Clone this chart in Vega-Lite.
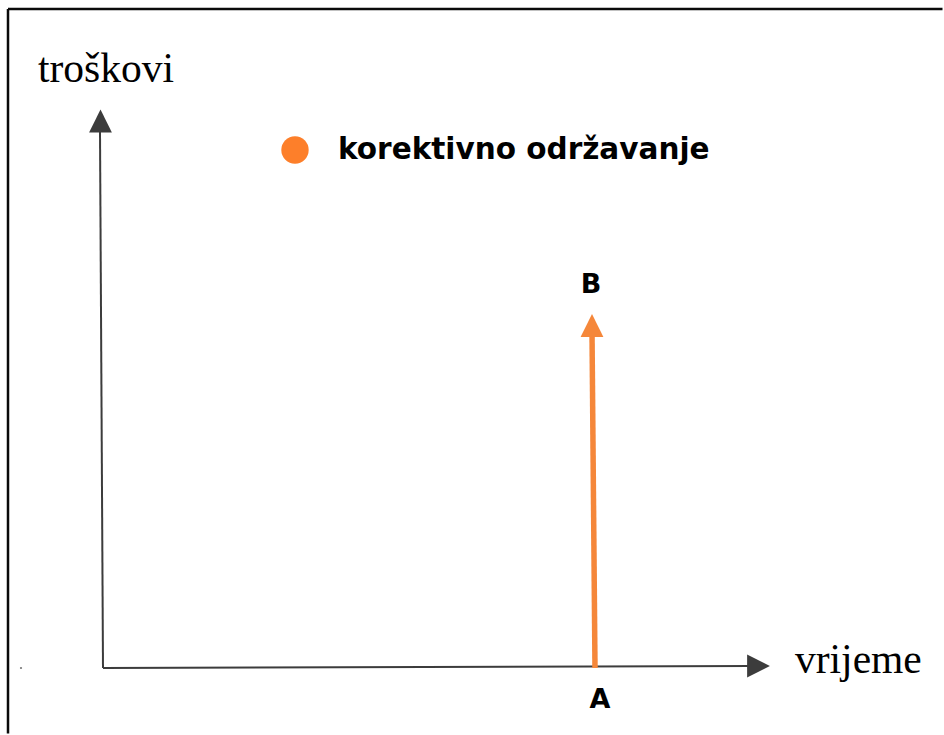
{
  "$schema": "https://vega.github.io/schema/vega-lite/v6.json",
  "width": 944,
  "height": 735,
  "autosize": {"type": "fit", "contains": "padding"},
  "padding": 0,
  "background": "white",
  "config": {"view": {"stroke": null}},
  "datasets": {
    "lines": [
      {"series": "frame", "x": -0.94, "y": -0.655, "x2": -0.94, "y2": 6.59},
      {"series": "frame", "x": -0.94, "y": 6.59, "x2": 8.405, "y2": 6.59},
      {"series": "axis", "x": 0.01, "y": 0, "x2": -0.02, "y2": 5.36},
      {"series": "axis", "x": 0.01, "y": 0, "x2": 6.5, "y2": 0.02},
      {"series": "korektivno održavanje", "x": 4.93, "y": 0, "x2": 4.9, "y2": 3.36}
    ],
    "upHeads": [
      {"series": "axis", "x": -0.015, "y": 5.47},
      {"series": "korektivno održavanje", "x": 4.9, "y": 3.425}
    ],
    "rightHeads": [
      {"series": "axis", "x": 6.565, "y": 0.02}
    ],
    "legend": [
      {"series": "korektivno održavanje", "x": 1.93, "y": 5.18, "label": "korektivno održavanje", "lx": 2.36, "ly": 5.09}
    ],
    "axisTitles": [
      {"label": "troškovi", "x": -0.64, "y": 5.86},
      {"label": "vrijeme", "x": 6.93, "y": -0.05}
    ],
    "points": [
      {"label": "B", "x": 4.89, "y": 3.75},
      {"label": "A", "x": 4.98, "y": -0.4}
    ],
    "speck": [
      {"x": -0.81, "y": 0}
    ]
  },
  "layer": [
    {
      "data": {"name": "lines"},
      "mark": {"type": "rule", "strokeCap": "butt"},
      "encoding": {
        "x": {"field": "x", "type": "quantitative", "scale": {"domain": [-1.02, 8.42], "nice": false, "zero": false}, "axis": null},
        "y": {"field": "y", "type": "quantitative", "scale": {"domain": [-0.67, 6.68], "nice": false, "zero": false}, "axis": null},
        "x2": {"field": "x2"},
        "y2": {"field": "y2"},
        "color": {"field": "series", "type": "nominal", "scale": {"domain": ["frame", "axis", "korektivno održavanje"], "range": ["#0a0a0a", "#3c3c3c", "#f5873a"]}, "legend": null},
        "strokeWidth": {"field": "series", "type": "nominal", "scale": {"type": "ordinal", "domain": ["frame", "axis", "korektivno održavanje"], "range": [2.5, 2, 5.5]}, "legend": null}
      }
    },
    {
      "data": {"name": "upHeads"},
      "mark": {"type": "point", "filled": true, "opacity": 1, "shape": "M-1,1L0,-1L1,1Z", "size": 520},
      "encoding": {
        "x": {"field": "x", "type": "quantitative", "axis": null},
        "y": {"field": "y", "type": "quantitative", "axis": null},
        "color": {"field": "series", "type": "nominal", "legend": null}
      }
    },
    {
      "data": {"name": "rightHeads"},
      "mark": {"type": "point", "filled": true, "opacity": 1, "shape": "M-1,-1L1,0L-1,1Z", "size": 520},
      "encoding": {
        "x": {"field": "x", "type": "quantitative", "axis": null},
        "y": {"field": "y", "type": "quantitative", "axis": null},
        "color": {"field": "series", "type": "nominal", "legend": null}
      }
    },
    {
      "data": {"name": "legend"},
      "mark": {"type": "point", "filled": true, "opacity": 1, "shape": "circle", "size": 750},
      "encoding": {
        "x": {"field": "x", "type": "quantitative", "axis": null},
        "y": {"field": "y", "type": "quantitative", "axis": null},
        "color": {"value": "#fd7f2a"}
      }
    },
    {
      "data": {"name": "legend"},
      "mark": {"type": "text", "align": "left", "baseline": "alphabetic", "font": "DejaVu Sans", "fontWeight": "bold", "fontSize": 29.5, "color": "#000000"},
      "encoding": {
        "x": {"field": "lx", "type": "quantitative", "axis": null},
        "y": {"field": "ly", "type": "quantitative", "axis": null},
        "text": {"field": "label"}
      }
    },
    {
      "data": {"name": "axisTitles"},
      "mark": {"type": "text", "align": "left", "baseline": "alphabetic", "font": "Liberation Serif", "fontSize": 41.5, "color": "#000000"},
      "encoding": {
        "x": {"field": "x", "type": "quantitative", "axis": null},
        "y": {"field": "y", "type": "quantitative", "axis": null},
        "text": {"field": "label"}
      }
    },
    {
      "data": {"name": "points"},
      "mark": {"type": "text", "align": "center", "baseline": "alphabetic", "font": "DejaVu Sans", "fontWeight": "bold", "fontSize": 27, "color": "#000000"},
      "encoding": {
        "x": {"field": "x", "type": "quantitative", "axis": null},
        "y": {"field": "y", "type": "quantitative", "axis": null},
        "text": {"field": "label"}
      }
    },
    {
      "data": {"name": "speck"},
      "mark": {"type": "point", "filled": true, "shape": "circle", "size": 5, "color": "#777777", "opacity": 1},
      "encoding": {
        "x": {"field": "x", "type": "quantitative", "axis": null},
        "y": {"field": "y", "type": "quantitative", "axis": null}
      }
    }
  ]
}
